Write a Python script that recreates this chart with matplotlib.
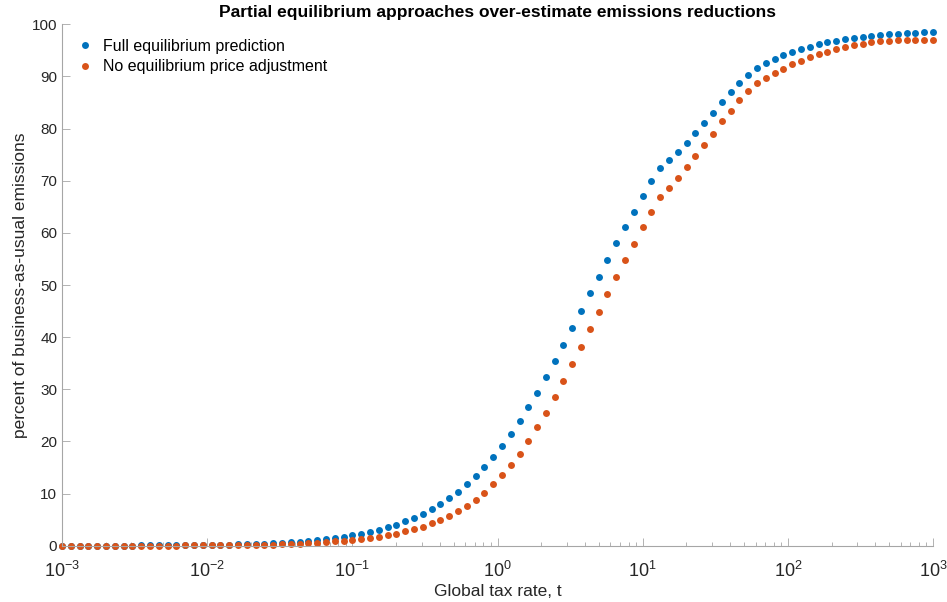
#!/usr/bin/env python3
"""Emissions under a global tax: full vs partial equilibrium"""

import matplotlib

matplotlib.use("Agg")
import matplotlib.pyplot as plt
import numpy as np
from matplotlib.ticker import NullFormatter

plt.rcParams["font.family"] = ["Liberation Sans", "DejaVu Sans"]
plt.rcParams["mathtext.fontset"] = "custom"
plt.rcParams["mathtext.rm"] = "Liberation Sans"
plt.rcParams["mathtext.default"] = "regular"

# tax grid, 100 points log-spaced from 1e-3 to 1e3
tax_rate = np.logspace(-3, 3, 100)

full_eq = [
    0.01, 0.012, 0.014, 0.017, 0.02, 0.024, 0.028, 0.033, 0.039, 0.046,
    0.055, 0.065, 0.077, 0.09, 0.105, 0.12, 0.14, 0.165, 0.19, 0.22,
    0.26, 0.3, 0.35, 0.41, 0.48, 0.56, 0.67, 0.8, 0.93, 1.09,
    1.28, 1.5, 1.73, 2.0, 2.33, 2.7, 3.07, 3.53, 4.03, 4.65,
    5.31, 6.08, 6.98, 8.0, 9.15, 10.36, 11.83, 13.37, 15.04, 17.01,
    19.12, 21.42, 23.86, 26.6, 29.34, 32.36, 35.42, 38.55, 41.85, 45.1,
    48.5, 51.6, 54.87, 58.0, 61.15, 64.1, 67.07, 69.9, 72.5, 74.0,
    75.6, 77.3, 79.2, 81.1, 83.05, 85.04, 86.96, 88.8, 90.33, 91.67,
    92.58, 93.34, 94.05, 94.69, 95.2, 95.7, 96.16, 96.55, 96.86, 97.18,
    97.43, 97.6, 97.8, 98.0, 98.1, 98.2, 98.3, 98.4, 98.45, 98.5,
]

no_price_adj = [
    0.005, 0.006, 0.007, 0.008, 0.01, 0.011, 0.013, 0.015, 0.018, 0.021,
    0.025, 0.029, 0.034, 0.04, 0.047, 0.055, 0.065, 0.076, 0.09, 0.105,
    0.12, 0.14, 0.16, 0.19, 0.22, 0.25, 0.29, 0.34, 0.44, 0.55,
    0.68, 0.82, 0.96, 1.09, 1.28, 1.48, 1.73, 2.02, 2.33, 2.74,
    3.2, 3.66, 4.3, 4.93, 5.7, 6.66, 7.61, 8.82, 10.16, 11.83,
    13.5, 15.48, 17.6, 20.08, 22.71, 25.51, 28.52, 31.65, 34.9, 38.17,
    41.6, 44.9, 48.2, 51.55, 54.8, 57.95, 61.1, 64.08, 66.95, 68.7,
    70.55, 72.55, 74.65, 76.85, 79.05, 81.45, 83.4, 85.4, 87.2, 88.7,
    89.7, 90.66, 91.5, 92.33, 93.0, 93.67, 94.25, 94.75, 95.2, 95.65,
    96.0, 96.3, 96.55, 96.75, 96.86, 96.93, 97.0, 97.05, 97.05, 97.05,
]

labels = ["Full equilibrium prediction", "No equilibrium price adjustment"]
colors = ["#0072BD", "#D95319"]
AXIS_GREY = "#a6a6a6"
TEXT_GREY = "#262626"


def main():
    """main: draw and save"""
    fig = plt.figure(figsize=(9.47, 6.02), dpi=100)
    ax = fig.add_axes([0.0655, 0.0935, 0.9197, 0.8661])
    for y, lbl, c in zip([full_eq, no_price_adj], labels, colors):
        ax.plot(tax_rate, y, "o", color=c, ms=5, mew=0, label=lbl, clip_on=False)
    ax.set_xscale("log")
    ax.set_xlim(1e-3, 1e3)
    ax.set_ylim(0, 100)
    ax.set_yticks(np.arange(0, 101, 10))
    ax.xaxis.set_minor_formatter(NullFormatter())
    for s in ["top", "right"]:
        ax.spines[s].set_visible(False)
    for s in ["left", "bottom"]:
        ax.spines[s].set_color(AXIS_GREY)
        ax.spines[s].set_linewidth(0.8)
    ax.tick_params(which="both", direction="in", color=AXIS_GREY, labelcolor=TEXT_GREY,
                   labelsize=11, width=0.6)
    ax.tick_params(which="major", length=5.5)
    ax.tick_params(which="minor", length=3)
    ax.tick_params(axis="x", which="major", labelsize=13, pad=11)
    ax.set_xlabel("Global tax rate, t", fontsize=12.5, color=TEXT_GREY, labelpad=2)
    ax.set_ylabel("percent of business-as-usual emissions", fontsize=12.5,
                  color=TEXT_GREY, labelpad=3)
    ax.set_title("Partial equilibrium approaches over-estimate emissions reductions",
                 fontsize=12.5, fontweight="bold", pad=5)
    ax.legend(loc="upper left", frameon=False, fontsize=11.5, handlelength=0.8,
              handletextpad=0.7, borderaxespad=0.5, labelspacing=0.35,
              bbox_to_anchor=(0.003, 1.0))
    fig.savefig("out.png", dpi=100)
    plt.close(fig)


if __name__ == "__main__":
    main()
